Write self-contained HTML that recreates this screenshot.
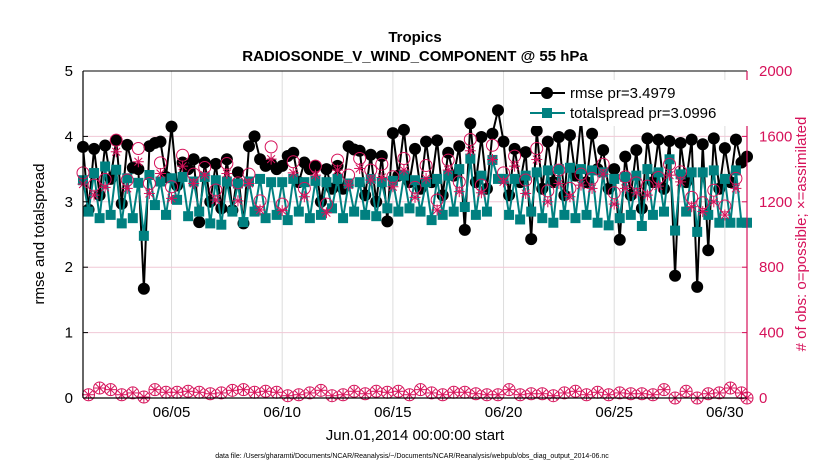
<!DOCTYPE html>
<html><head><meta charset="utf-8"><style>
body{margin:0;background:#fff;}
svg{display:block;font-family:"Liberation Sans",Arial,sans-serif;}
</style></head><body>
<svg id="chart" width="830" height="470" xmlns="http://www.w3.org/2000/svg">
<text x="415" y="42" text-anchor="middle" font-size="15" font-weight="bold">Tropics</text>
<text x="415" y="61" text-anchor="middle" font-size="15" font-weight="bold">RADIOSONDE_V_WIND_COMPONENT @ 55 hPa</text>
<g id="grid"></g>
<g id="plot"></g>
<g id="axes"></g>
<text transform="translate(44,234) rotate(-90)" text-anchor="middle" font-size="15">rmse and totalspread</text>
<text transform="translate(806,234) rotate(-90)" text-anchor="middle" font-size="15" fill="#d6125a"># of obs: o=possible; ×=assimilated</text>
<text x="415" y="440" text-anchor="middle" font-size="15">Jun.01,2014 00:00:00 start</text>
<text x="412" y="458" text-anchor="middle" font-size="7">data file: /Users/gharamti/Documents/NCAR/Reanalysis/~/Documents/NCAR/Reanalysis/webpub/obs_diag_output_2014-06.nc</text>
<g id="legend">
<rect x="526" y="80" width="222" height="46" fill="#fff"/>
<line x1="530" y1="93" x2="565" y2="93" stroke="#000" stroke-width="2"/>
<circle cx="547" cy="93" r="6" fill="#000"/>
<text x="570" y="98" font-size="15">rmse pr=3.4979</text>
<line x1="530" y1="113" x2="565" y2="113" stroke="#008080" stroke-width="2"/>
<rect x="542" y="108" width="10" height="10" fill="#008080"/>
<text x="570" y="118" font-size="15">totalspread pr=3.0996</text>
</g>
</svg>
<script>
const rmse=[3.84,2.88,3.81,3.1,3.86,3.35,3.94,2.97,3.87,3.52,3.5,1.67,3.85,3.9,3.92,3.38,4.15,3.25,3.6,3.5,3.65,2.69,3.6,3.0,3.58,2.9,3.65,2.87,3.45,2.67,3.85,4.0,3.65,3.55,3.58,3.5,3.55,3.7,3.75,3.3,3.6,3.5,3.55,3.0,3.5,3.2,3.55,3.2,3.85,3.8,3.78,3.1,3.72,3.0,3.7,2.7,4.05,3.4,4.1,3.3,3.81,3.2,3.92,3.3,3.94,3.1,3.75,3.4,3.85,2.57,4.2,3.3,3.99,3.2,4.04,4.4,3.92,3.1,3.81,3.3,3.76,2.43,4.09,3.2,3.92,3.3,3.99,3.1,4.02,3.4,4.25,3.3,4.04,3.5,3.79,3.2,3.5,2.42,3.69,3.1,3.79,2.9,3.97,3.3,3.95,3.2,3.93,1.87,3.9,3.3,3.95,1.70,3.88,2.26,3.97,3.2,3.82,3.3,3.95,3.6,3.69];
const spread=[3.33,2.85,3.44,2.75,3.54,2.80,3.49,2.67,3.36,2.75,3.29,2.48,3.41,2.95,3.31,2.80,3.36,3.03,3.38,2.78,3.31,2.85,3.38,2.67,3.33,2.65,3.31,2.85,3.28,2.69,3.31,2.85,3.35,2.75,3.3,2.8,3.3,2.72,3.35,2.85,3.3,2.75,3.32,2.8,3.3,2.9,3.35,2.75,3.28,2.85,3.3,2.8,3.35,2.78,3.3,2.9,3.32,2.85,3.4,2.9,3.33,2.85,3.3,2.72,3.35,2.8,3.4,2.85,3.5,2.92,3.66,2.8,3.4,2.85,3.64,3.35,3.35,2.8,3.35,2.73,3.4,2.85,3.45,2.75,3.48,2.68,3.5,2.8,3.52,2.75,3.5,2.8,3.48,2.68,3.45,2.64,3.35,2.75,3.38,2.8,3.4,2.63,3.5,2.8,3.45,2.85,3.65,2.56,3.42,2.85,3.45,2.54,3.45,2.8,3.48,2.68,3.35,2.68,3.48,2.68,2.68];
const possibleSynoptic=[1377,1302,1337,1577,1333,1526,1312,1438,1292,1485,1369,1410,1272,1434,1316,1369,1206,1536,1186,1445,1282,1418,1186,1455,1363,1465,1394,1430,1353,1465,1288,1422,1211,1455,1322,1581,1302,1546,1377,1479,1333,1526,1267,1394,1282,1369,1343,1430,1255,1353,1316,1296,1349,1430,1383,1227,1194,1271,1174,1343,0];
const assimSynoptic=[1308,1241,1288,1506,1282,1445,1251,1373,1221,1418,1312,1363,1211,1373,1206,1312,1150,1461,1146,1377,1231,1363,1133,1394,1302,1404,1333,1349,1292,1394,1227,1343,1150,1394,1262,1512,1255,1459,1322,1418,1251,1459,1200,1312,1231,1302,1282,1369,1186,1282,1255,1241,1296,1363,1322,1170,1140,1200,1119,1282,0];
const offHourCount=[20,61,51,20,31,6,51,35,35,41,35,26,31,47,51,35,41,35,14,20,31,47,14,20,41,26,41,35,41,20,51,31,20,35,35,26,20,20,51,20,26,26,14,31,41,20,35,20,31,26,26,20,51,0,41,0,26,31,61,31];
const xTickDays=[4,9,14,19,24,29];
const xTickLabels=["06/05","06/10","06/15","06/20","06/25","06/30"];
const yTicks=[0,1,2,3,4,5];
const rTicks=[0,400,800,1200,1600,2000];

const NS="http://www.w3.org/2000/svg";
const L=83,R=747,T=71,B=398;
const xS=d=>L+d/30*(R-L);
const yS=v=>B-v/5*(B-T);
const rS=v=>B-v/2000*(B-T);
const pink="#d6125a";
function mk(tag,attrs,parent){const e=document.createElementNS(NS,tag);for(const k in attrs)e.setAttribute(k,attrs[k]);parent.appendChild(e);return e;}
const grid=document.getElementById('grid'),plot=document.getElementById('plot'),axes=document.getElementById('axes');

xTickDays.forEach((d,i)=>{
  const g=mk('line',{x1:xS(d),x2:xS(d),y1:T,y2:B,stroke:'#ddd','stroke-width':1},grid);
  
  
  const t=mk('text',{x:xS(d),y:B+19,'text-anchor':'middle','font-size':15},axes);
  t.textContent=xTickLabels[i];
  
  
});
rTicks.forEach(v=>{
  if(v>0&&v<2000){const g=mk('line',{x1:L,x2:R,y1:rS(v),y2:rS(v),stroke:'#f0c8d6','stroke-width':1},grid);
  
  }
  const t=mk('text',{x:R+12,y:rS(v)+5,'font-size':15,fill:pink},axes);
  t.textContent=v;
  
  
  mk('line',{x1:R-5,x2:R,y1:rS(v),y2:rS(v),stroke:pink},axes);
});
yTicks.forEach(v=>{
  const t=mk('text',{x:L-10,y:yS(v)+5,'text-anchor':'end','font-size':15},axes);
  t.textContent=v;
  
  
  mk('line',{x1:L,x2:L+5,y1:yS(v),y2:yS(v),stroke:'#000'},axes);
});
const la=mk('line',{x1:L,x2:L,y1:T,y2:B,stroke:'#000','stroke-width':1.2},axes);


const ba=mk('line',{x1:L,x2:R,y1:B,y2:B,stroke:'#000','stroke-width':1.2},axes);


mk('line',{x1:L,x2:R,y1:T,y2:T,stroke:'#000','stroke-width':1},axes);
const ra=mk('line',{x1:R,x2:R,y1:T,y2:B,stroke:pink,'stroke-width':1.2},axes);



const obsDays=[],obsPoss=[],obsAssim=[];
for(let k=0;k<=120;k++){
  obsDays.push(k*0.25);
  if(k%2===0){obsPoss.push(possibleSynoptic[k/2]);obsAssim.push(assimSynoptic[k/2]);}
  else{obsPoss.push(offHourCount[(k-1)/2]);obsAssim.push(offHourCount[(k-1)/2]);}
}
function star(cx,cy,r,parent){
  const g=mk('g',{stroke:pink,'stroke-width':1},parent);
  for(let a=0;a<4;a++){const an=a*Math.PI/4;mk('line',{x1:cx-r*Math.cos(an),y1:cy-r*Math.sin(an),x2:cx+r*Math.cos(an),y2:cy+r*Math.sin(an)},g);}
  return g;
}
const rPts=rmse.map((v,k)=>xS(k*0.25)+','+yS(v)).join(' ');
const rl=mk('polyline',{points:rPts,fill:'none',stroke:'#000','stroke-width':2},plot);


rmse.forEach((v,k)=>{const c=mk('circle',{cx:xS(k*0.25),cy:yS(v),r:6,fill:'#000'},plot);
  
  });
const sPts=spread.map((v,k)=>xS(k*0.25)+','+yS(v)).join(' ');
const sl=mk('polyline',{points:sPts,fill:'none',stroke:'#008080','stroke-width':2},plot);


spread.forEach((v,k)=>{const c=mk('rect',{x:xS(k*0.25)-5,y:yS(v)-5,width:10,height:10,fill:'#008080'},plot);
  
  });
obsDays.forEach((d,k)=>{
  const c=mk('circle',{cx:xS(d),cy:rS(obsPoss[k]),r:6,fill:'none',stroke:pink,'stroke-width':1},plot);
  
  
  const s=star(xS(d),rS(obsAssim[k]),5.5,plot);
  
  
});
</script>
</body></html>
